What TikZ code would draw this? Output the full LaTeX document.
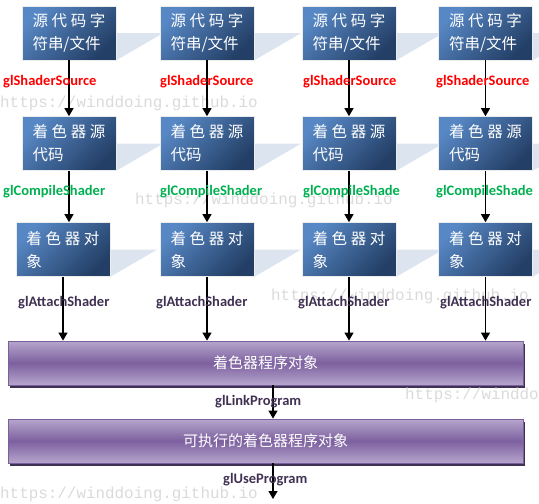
\documentclass[tikz,border=0pt]{standalone}
\usepackage{fontspec}
\setmainfont{Carlito}
\newfontfamily\cjkfont{Noto Sans CJK SC}
\newfontfamily\markfont{Liberation Mono}
\usetikzlibrary{arrows.meta,positioning,backgrounds,calc}

\definecolor{boxlight}{HTML}{5787C4}
\definecolor{boxdark}{HTML}{233F66}
\definecolor{shadeblue}{HTML}{DCE4F0}
\definecolor{barlight}{HTML}{B6A6CC}
\definecolor{bardark}{HTML}{7D609F}
\definecolor{barline}{HTML}{7A5F9C}
\definecolor{barshadow}{HTML}{3F3151}
\definecolor{srcred}{HTML}{FF0000}
\definecolor{compgreen}{HTML}{00B050}
\definecolor{callpurple}{HTML}{403152}
\definecolor{markgray}{HTML}{DADADA}

\begin{document}
\begin{tikzpicture}[x=1pt,y=-1pt,>={Triangle[width=9pt,length=8pt]},
        shaderbox/.style={draw=white!85!gray,line width=0.6pt,
                          top color=boxlight,bottom color=boxdark,shading angle=45,
                          minimum width=94pt,minimum height=54pt,text width=73pt,
                          inner xsep=10.5pt,align=left,text=white,
                          font=\cjkfont\fontsize{15.5}{23}\selectfont},
        progbar/.style={draw=barline,line width=0.8pt,
                        top color=barlight,bottom color=barlight,middle color=bardark,
                        minimum width=515pt,minimum height=44pt,text=white,
                        font=\cjkfont\fontsize{15}{17}\selectfont},
        callname/.style={anchor=west,inner sep=0pt,
                         font=\bfseries\fontsize{14.5}{17}\selectfont},
        webmark/.style={anchor=west,inner sep=0pt,text=markgray,
                        font=\markfont\fontsize{15.9}{18}\selectfont},
        flow/.style={->,line width=1.1pt}]
        \useasboundingbox (0,0) rectangle (539,504);

        % watermarks
        \node[webmark] (mark1) at (0,103) {https://winddoing.github.io};
        \node[webmark] (mark2) at (135,200) {https://winddoing.github.io};
        \node[webmark] (mark3) at (271,296) {https://winddoing.github.io};
        \node[webmark] (mark4) at (405,395) {https://winddoing.github.io};
        \node[webmark] (mark5) at (0,494) {https://winddoing.github.io};

        % shader strings
        \node[shaderbox] (str1) at (69,33) {源\hfill 代\hfill 码\hfill 字\\符串/文件};
        \node[shaderbox] (str2) at (207,33) {源\hfill 代\hfill 码\hfill 字\\符串/文件};
        \node[shaderbox] (str3) at (349,33) {源\hfill 代\hfill 码\hfill 字\\符串/文件};
        \node[shaderbox] (str4) at (485.5,33) {源\hfill 代\hfill 码\hfill 字\\符串/文件};

        % shader sources
        \node[shaderbox] (code1) at (69,143.5) {着\hfill 色\hfill 器\hfill 源\\代码};
        \node[shaderbox] (code2) at (207,143.5) {着\hfill 色\hfill 器\hfill 源\\代码};
        \node[shaderbox] (code3) at (349,143.5) {着\hfill 色\hfill 器\hfill 源\\代码};
        \node[shaderbox] (code4) at (485.5,143.5) {着\hfill 色\hfill 器\hfill 源\\代码};

        % shader objects
        \node[shaderbox] (obj1) at (63,249.5) {着\hfill 色\hfill 器\hfill 对\\象};
        \node[shaderbox] (obj2) at (207,249.5) {着\hfill 色\hfill 器\hfill 对\\象};
        \node[shaderbox] (obj3) at (349,249.5) {着\hfill 色\hfill 器\hfill 对\\象};
        \node[shaderbox] (obj4) at (485.5,249.5) {着\hfill 色\hfill 器\hfill 对\\象};

        % program objects
        \node[progbar] (prog) at (265.5,363) {着色器程序对象};
        \node[progbar] (exe) at (265.5,441) {可执行的着色器程序对象};
        \coordinate (useend) at (273,499);

        \begin{scope}[on background layer]
            \foreach \b in {str1,str2,str3,str4,code1,code2,code3,code4,obj1,obj2,obj3,obj4}
                \fill[shadeblue] (\b.south east) -- (\b.east) -- ++(47,0) -- cycle;
            \fill[barshadow] ($(prog.south west)+(2,3)$) rectangle ($(prog.north east)+(2,3)$);
            \fill[barshadow] ($(exe.south west)+(2,3)$) rectangle ($(exe.north east)+(2,3)$);
        \end{scope}

        \draw[flow] (str1) -- (code1);
        \draw[flow] (str2) -- (code2);
        \draw[flow] (str3) -- (code3);
        \draw[flow] (str4) -- (code4);
        \draw[flow] (code1.south) -- (code1.south |- obj1.north);
        \draw[flow] (code2) -- (obj2);
        \draw[flow] (code3) -- (obj3);
        \draw[flow] (code4) -- (obj4);
        \draw[flow] (obj1.south) -- (obj1.south |- prog.north);
        \draw[flow] (obj2.south) -- (obj2.south |- prog.north);
        \draw[flow] (obj3.south) -- (obj3.south |- prog.north);
        \draw[flow] (obj4.south) -- (obj4.south |- prog.north);
        \draw[flow] ([xshift=7.5pt]prog.south) -- ([xshift=7.5pt]exe.north);
        \draw[flow] ([xshift=7.5pt]exe.south) -- (useend);

        % call names
        \node[callname,text=srcred] (source1) at (3,82) {glShaderSource};
        \node[callname,text=srcred] (source2) at (160,82) {glShaderSource};
        \node[callname,text=srcred] (source3) at (303,82) {glShaderSource};
        \node[callname,text=srcred] (source4) at (436,82) {glShaderSource};
        \node[callname,text=compgreen] (compile1) at (3,192) {glCompileShader};
        \node[callname,text=compgreen] (compile2) at (160,192) {glCompileShader};
        \node[callname,text=compgreen] (compile3) at (303,192) {glCompileShade};
        \node[callname,text=compgreen] (compile4) at (436,192) {glCompileShade};
        \node[callname,text=callpurple] (attach1) at (18,303) {glAttachShader};
        \node[callname,text=callpurple] (attach2) at (156,303) {glAttachShader};
        \node[callname,text=callpurple] (attach3) at (298,303) {glAttachShader};
        \node[callname,text=callpurple] (attach4) at (440,303) {glAttachShader};
        \node[callname,text=callpurple] (link) at (215,402) {glLinkProgram};
        \node[callname,text=callpurple] (use) at (223,480) {glUseProgram};
    \end{tikzpicture}
\end{document}
